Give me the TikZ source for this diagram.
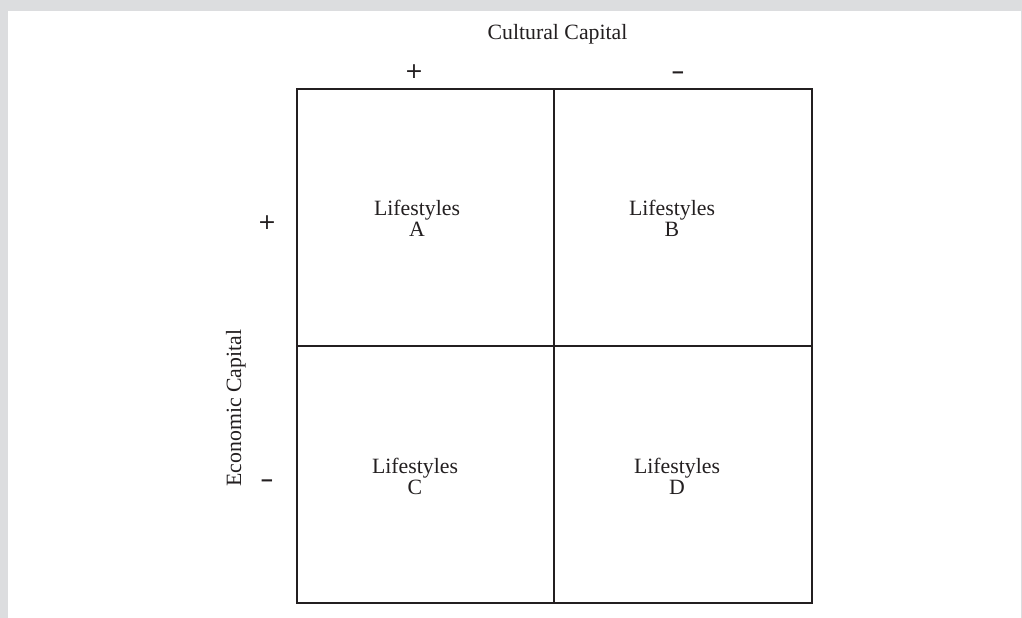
\documentclass[tikz,border=0pt]{standalone}
\usepackage{fontspec}
\setmainfont{Liberation Serif}
\newfontfamily\signfont{DejaVu Sans}
\newfontfamily\dashfont{Liberation Sans}
\definecolor{framegray}{RGB}{220,221,223}
\definecolor{ink}{RGB}{35,31,32}
\begin{document}
\begin{tikzpicture}[x=1pt,y=-1pt,
  gridline/.style={draw=ink, line width=2.3pt},
  label/.style={text=ink, inner sep=0pt, align=center,
    font=\fontsize{21.8}{21}\selectfont},
  sign/.style={text=ink, inner sep=0pt, font=\signfont\fontsize{22}{22}\selectfont},
  negsign/.style={text=ink, inner sep=0pt, font=\dashfont\bfseries\fontsize{21}{21}\selectfont}]
% page frame
\fill[framegray] (0,0) rectangle (1022,618);
\fill[white] (8,11) rectangle (1021,618);
\useasboundingbox (0,0) rectangle (1022,618);

% grid corners and midpoints
\coordinate (tl) at (297,89);
\coordinate (br) at (812,603);
\coordinate (tm) at (554,89);
\coordinate (bm) at (554,603);
\coordinate (lm) at (297,346);
\coordinate (rm) at (812,346);

\draw[gridline] (tl) rectangle (br);
\draw[gridline] (tm) -- (bm);
\draw[gridline] (lm) -- (rm);

% axis titles
\node[label] (cult) at (557.5,34) {Cultural Capital};
\node[label, rotate=90] (econ) at (236,408) {Economic Capital};

% axis signs
\node[sign] (cplus) at (414,72) {+};
\node[negsign] (cminus) at (678,75) {–};
\node[sign] (eplus) at (267,223) {+};
\node[negsign] (eminus) at (267,483) {–};

% quadrant labels
\node[label] (qa) at (417,218) {Lifestyles\\A};
\node[label] (qb) at (672,218) {Lifestyles\\B};
\node[label] (qc) at (415,476) {Lifestyles\\C};
\node[label] (qd) at (677,476) {Lifestyles\\D};
\end{tikzpicture}
\end{document}
